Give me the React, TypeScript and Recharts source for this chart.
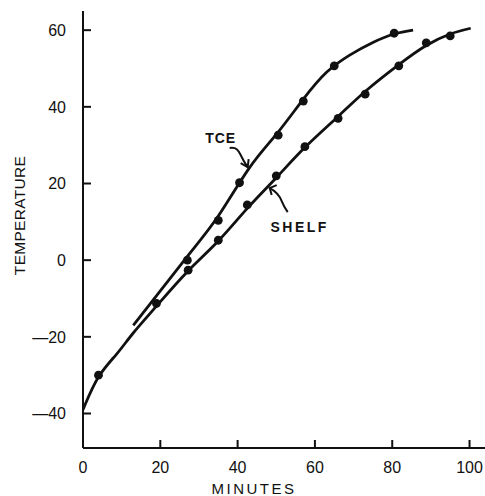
import React from 'react';
import { ComposedChart, Line, Scatter, XAxis, YAxis, ReferenceDot } from 'recharts';

// Measured points (minutes, temperature)
const tcePoints = [
  { x: 27, y: 0 },
  { x: 35, y: 10.4 },
  { x: 40.5, y: 20.2 },
  { x: 50.5, y: 32.6 },
  { x: 57, y: 41.5 },
  { x: 65, y: 50.7 },
  { x: 80.5, y: 59.2 },
];

const shelfPoints = [
  { x: 4, y: -30 },
  { x: 19, y: -11.3 },
  { x: 27.2, y: -2.6 },
  { x: 35, y: 5.2 },
  { x: 42.5, y: 14.4 },
  { x: 50, y: 22 },
  { x: 57.4, y: 29.6 },
  { x: 66, y: 37 },
  { x: 73, y: 43.3 },
  { x: 81.7, y: 50.7 },
  { x: 88.8, y: 56.7 },
  { x: 95, y: 58.5 },
];

// Hand-drawn fitted curves (knots)
const tceCurve = [
  { x: 13, y: -17 },
  { x: 27, y: 1 },
  { x: 35, y: 11.5 },
  { x: 43, y: 24 },
  { x: 50, y: 32.8 },
  { x: 57, y: 42 },
  { x: 63, y: 49 },
  { x: 69, y: 53.5 },
  { x: 75, y: 56.8 },
  { x: 80.5, y: 59 },
  { x: 85.4, y: 60 },
];

const shelfCurve = [
  { x: 0, y: -39 },
  { x: 4, y: -30.5 },
  { x: 8.7, y: -24.5 },
  { x: 13, y: -19 },
  { x: 19, y: -12 },
  { x: 27, y: -3 },
  { x: 35, y: 5 },
  { x: 42.5, y: 13.5 },
  { x: 50, y: 21.5 },
  { x: 57.5, y: 29.5 },
  { x: 66, y: 37.5 },
  { x: 73, y: 44 },
  { x: 81.7, y: 51 },
  { x: 88.8, y: 56 },
  { x: 95, y: 59 },
  { x: 100.3, y: 60.5 },
];

const xTicks = [0, 20, 40, 60, 80, 100];
const yTicks = [-40, -20, 0, 20, 40, 60];

const tceArrowTip = { x: 42.6, y: 24.3 };
const shelfArrowTip = { x: 48.3, y: 18.8 };

const INK = '#111';
const FONT = '"Liberation Sans", Arial, sans-serif';

const fmtY = (v: number) => (v < 0 ? '\u2014' + Math.abs(v) : String(v));

const Dot = (p: any) => <circle cx={p.cx} cy={p.cy} r={4.4} fill={INK} />;

const TceAnnot = (p: any) => {
  const { cx, cy } = p;
  return (
    <g>
      <text x={cx - 27} y={cy - 24} textAnchor="middle" fontFamily={FONT} fontWeight="bold" fontSize={14} letterSpacing={1} fill={INK}>
        TCE
      </text>
      <path
        d={`M ${cx - 18} ${cy - 19} C ${cx - 10} ${cy - 20}, ${cx - 9} ${cy - 16}, ${cx - 6} ${cy - 10} S ${cx - 2} ${cy - 3}, ${cx} ${cy}`}
        fill="none" stroke={INK} strokeWidth={2}
      />
      <path d={`M ${cx - 7} ${cy - 4} L ${cx} ${cy} L ${cx + 1} ${cy - 8}`} fill="none" stroke={INK} strokeWidth={2} />
    </g>
  );
};

const ShelfAnnot = (p: any) => {
  const { cx, cy } = p;
  return (
    <g>
      <text x={cx + 30} y={cy + 44} textAnchor="middle" fontFamily={FONT} fontWeight="bold" fontSize={14} letterSpacing={2.5} fill={INK}>
        SHELF
      </text>
      <path
        d={`M ${cx} ${cy} C ${cx + 6} ${cy + 3}, ${cx + 10} ${cy + 8}, ${cx + 12} ${cy + 13} S ${cx + 16} ${cy + 21}, ${cx + 18} ${cy + 24}`}
        fill="none" stroke={INK} strokeWidth={2}
      />
      <path d={`M ${cx + 7} ${cy - 3} L ${cx} ${cy} L ${cx + 2} ${cy + 7}`} fill="none" stroke={INK} strokeWidth={2} />
    </g>
  );
};

export default function App() {
  return (
    <div style={{ position: 'absolute', left: 0, top: 0, background: '#fff' }}>
      <ComposedChart width={485} height={496} margin={{ top: 11, right: 0, bottom: 0, left: 0 }}>
        <XAxis
          dataKey="x"
          type="number"
          domain={[0, 104]}
          allowDataOverflow
          ticks={xTicks}
          height={48}
          tickSize={-8}
          tickMargin={22}
          axisLine={{ stroke: INK, strokeWidth: 2 }}
          tickLine={{ stroke: INK, strokeWidth: 2 }}
          tick={{ fill: INK, fontSize: 16, fontFamily: FONT }}
          label={{
            content: (lp: any) => {
              const vb = lp.viewBox;
              return (
                <text x={vb.x + vb.width / 2 - 30} y={vb.y + 45.5} textAnchor="middle" fontFamily={FONT} fontSize={15} letterSpacing={2.5} fill={INK}>
                  MINUTES
                </text>
              );
            },
          }}
        />
        <YAxis
          dataKey="y"
          type="number"
          domain={[-49, 65]}
          allowDataOverflow
          ticks={yTicks}
          width={83}
          tickSize={-8}
          tickMargin={25}
          tickFormatter={fmtY}
          axisLine={{ stroke: INK, strokeWidth: 2 }}
          tickLine={{ stroke: INK, strokeWidth: 2 }}
          tick={{ fill: INK, fontSize: 16, fontFamily: FONT }}
          label={{
            content: (lp: any) => {
              const vb = lp.viewBox;
              const cx = vb.x + 19;
              const cy = vb.y + vb.height / 2 - 14;
              return (
                <text x={cx} y={cy} transform={`rotate(-90 ${cx} ${cy})`} textAnchor="middle" dominantBaseline="central" fontFamily={FONT} fontSize={15.5} letterSpacing={0.3} fill={INK}>
                  TEMPERATURE
                </text>
              );
            },
          }}
        />
        <Line data={shelfCurve} dataKey="y" type="natural" stroke={INK} strokeWidth={2.8} dot={false} activeDot={false} isAnimationActive={false} />
        <Line data={tceCurve} dataKey="y" type="natural" stroke={INK} strokeWidth={2.8} dot={false} activeDot={false} isAnimationActive={false} />
        <Scatter data={shelfPoints} dataKey="y" shape={Dot} isAnimationActive={false} />
        <Scatter data={tcePoints} dataKey="y" shape={Dot} isAnimationActive={false} />
        <ReferenceDot x={tceArrowTip.x} y={tceArrowTip.y} shape={TceAnnot} />
        <ReferenceDot x={shelfArrowTip.x} y={shelfArrowTip.y} shape={ShelfAnnot} />
      </ComposedChart>
    </div>
  );
}
